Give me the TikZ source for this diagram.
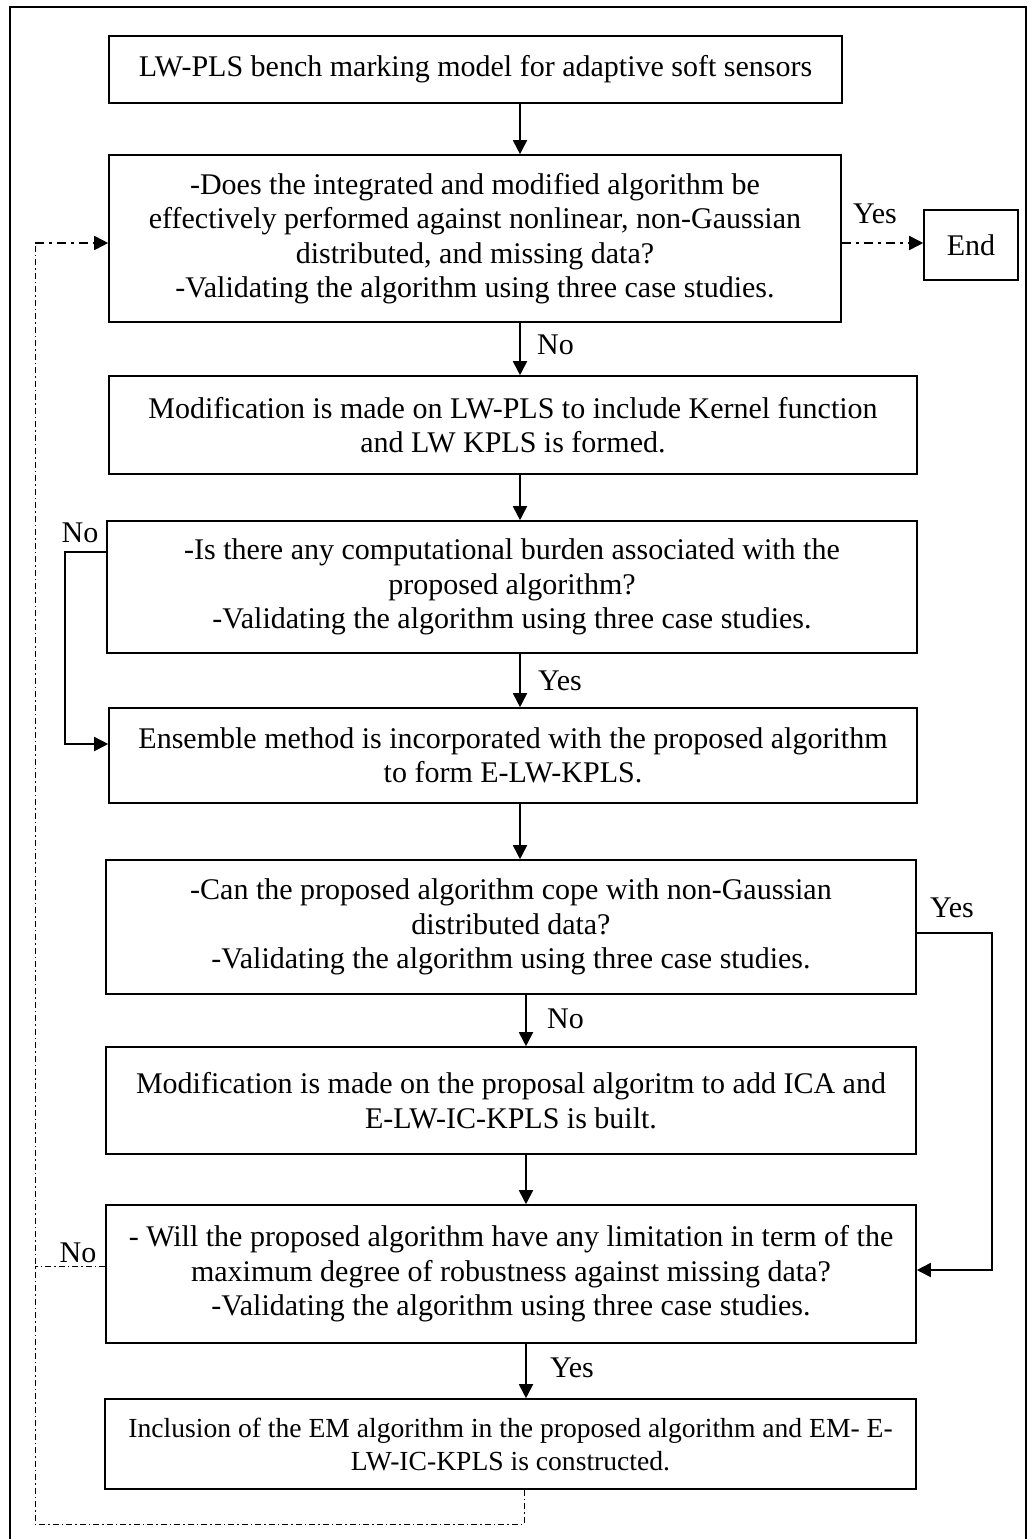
\documentclass[tikz,border=0pt]{standalone}
\usepackage{fontspec}
\setmainfont{Liberation Serif}
\usetikzlibrary{arrows.meta}
\newcommand\mainfs{\fontsize{30}{34.5}\selectfont}
\newcommand\smallfs{\fontsize{27.6}{33}\selectfont}
\begin{document}
\begin{tikzpicture}[x=1pt,y=-1pt,
  box/.style={draw, line width=1.6pt, align=center, inner sep=0pt, font=\mainfs},
  conn/.style={line width=1.8pt, -{Triangle[length=14pt,width=14pt]}},
  loopline/.style={line width=0.9pt, dash pattern=on 6pt off 3pt on 1.5pt off 3pt},
  loopthick/.style={line width=1.8pt, dash pattern=on 9pt off 5pt on 3pt off 5pt, -{Triangle[length=14pt,width=14pt]}},
  lbl/.style={font=\mainfs, inner sep=0pt}]
\useasboundingbox (0,0) rectangle (1028,1539);
\draw[line width=1.6pt] (10,1560) -- (10,7) -- (1026,7) -- (1026,1560);

\node[box, minimum width=733pt, minimum height=67pt] (b1) at (475.5,69.5)
  {LW-PLS bench marking model for adaptive soft sensors};
\node[box, minimum width=732pt, minimum height=167pt] (b2) at (475,238.5)
  {-Does the integrated and modified algorithm be\\effectively performed against nonlinear, non-Gaussian\\distributed, and missing data?\\-Validating the algorithm using three case studies.};
\node[box, minimum width=94pt, minimum height=70pt] (end) at (971,245) {End};
\node[box, minimum width=808pt, minimum height=98pt] (b3) at (513,425)
  {Modification is made on LW-PLS to include Kernel function\\and LW KPLS is formed.};
\node[box, minimum width=810pt, minimum height=132pt] (b4) at (512,587)
  {-Is there any computational burden associated with the\\proposed algorithm?\\-Validating the algorithm using three case studies.};
\node[box, minimum width=808pt, minimum height=95pt] (b5) at (513,755.5)
  {Ensemble method is incorporated with the proposed algorithm\\to form E-LW-KPLS.};
\node[box, minimum width=810pt, minimum height=134pt] (b6) at (511,927)
  {-Can the proposed algorithm cope with non-Gaussian\\distributed data?\\-Validating the algorithm using three case studies.};
\node[box, minimum width=810pt, minimum height=107pt] (b7) at (511,1100.5)
  {Modification is made on the proposal algoritm to add ICA and\\E-LW-IC-KPLS is built.};
\node[box, minimum width=810pt, minimum height=138pt] (b8) at (511,1274)
  {- Will the proposed algorithm have any limitation in term of the\\maximum degree of robustness against missing data?\\-Validating the algorithm using three case studies.};
\node[box, font=\smallfs, minimum width=811pt, minimum height=90pt] (b9) at (510.5,1444)
  {Inclusion of the EM algorithm in the proposed algorithm and EM- E-\\LW-IC-KPLS is constructed.};

\coordinate (ax) at (520,0);
\coordinate (bx) at (526,0);
\draw[conn] (b1.south -| ax) -- (b2.north -| ax);
\draw[conn] (b2.south -| ax) -- (b3.north -| ax);
\draw[conn] (b3.south -| ax) -- (b4.north -| ax);
\draw[conn] (b4.south -| ax) -- (b5.north -| ax);
\draw[conn] (b5.south -| ax) -- (b6.north -| ax);
\draw[conn] (b6.south -| bx) -- (b7.north -| bx);
\draw[conn] (b7.south -| bx) -- (b8.north -| bx);
\draw[conn] (b8.south -| bx) -- (b9.north -| bx);

\coordinate (c4a) at (65,552);
\coordinate (c4b) at (65,744);
\draw[conn] (b4.west |- c4a) -- (c4a) -- (c4b) -- (b5.west |- c4b);

\coordinate (r1) at (992,933);
\coordinate (r2) at (992,1270);
\draw[conn] (b6.east |- r1) -- (r1) -- (r2) -- (b8.east |- r2);

\coordinate (ey) at (0,243);
\draw[loopthick] (b2.east |- ey) -- (end.west |- ey);

\coordinate (l1) at (35,1266);
\coordinate (l2) at (35,1524);
\coordinate (l3) at (524,1524);
\coordinate (l4) at (35,243);
\draw[loopline] (b8.west |- l1) -- (l1);
\draw[loopline] (b9.south -| l3) -- (l3) -- (l2) -- (l4);
\draw[loopthick] (l4) -- (b2.west |- l4);

\node[lbl] (yes1) at (875,214) {Yes};
\node[lbl, anchor=west] (no1) at (537,345) {No};
\node[lbl] (no2) at (80,533) {No};
\node[lbl, anchor=west] (yes2) at (538,681) {Yes};
\node[lbl] (yes3) at (952,908) {Yes};
\node[lbl, anchor=west] (no3) at (547,1019) {No};
\node[lbl] (no4) at (78,1253) {No};
\node[lbl, anchor=west] (yes4) at (550,1368) {Yes};
\end{tikzpicture}
\end{document}
